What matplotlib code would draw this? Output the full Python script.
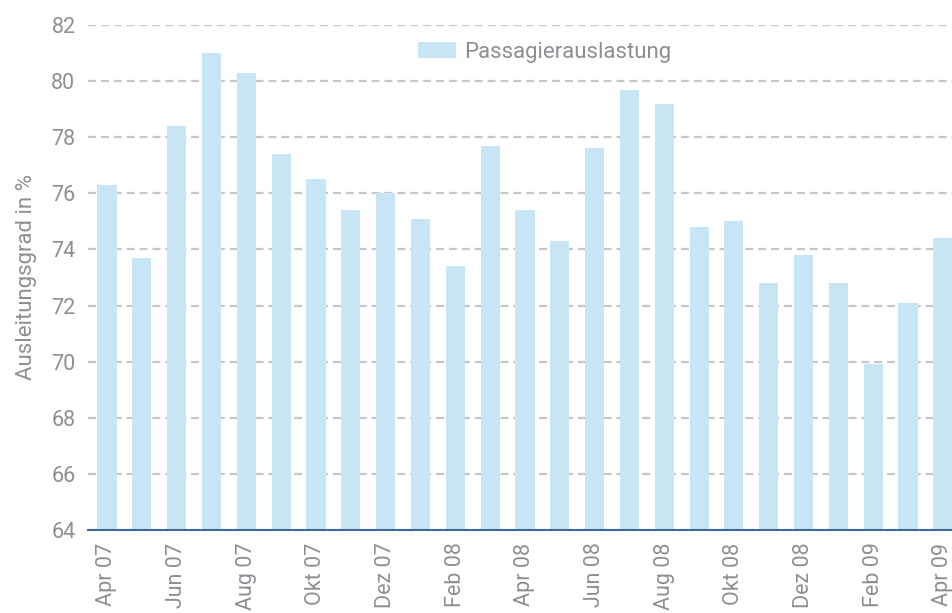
import numpy as np
import matplotlib.pyplot as plt

months = ['Apr 07', 'Mai 07', 'Jun 07', 'Jul 07', 'Aug 07', 'Sep 07', 'Okt 07', 'Nov 07',
          'Dez 07', 'Jan 08', 'Feb 08', 'Mär 08', 'Apr 08', 'Mai 08', 'Jun 08', 'Jul 08',
          'Aug 08', 'Sep 08', 'Okt 08', 'Nov 08', 'Dez 08', 'Jan 09', 'Feb 09', 'Mär 09',
          'Apr 09']
auslastung = [76.3, 73.7, 78.4, 81.0, 80.3, 77.4, 76.5, 75.4, 76.0, 75.1, 73.4, 77.7,
              75.4, 74.3, 77.6, 79.7, 79.2, 74.8, 75.0, 72.8, 73.8, 72.8, 69.9, 72.1,
              74.4]
yticks = [64, 66, 68, 70, 72, 74, 76, 78, 80, 82]

bar_color = '#c8e5f6'
text_color = '#8e8f94'
grid_color = '#c6c6c6'

plt.rcParams['font.family'] = ['Roboto', 'DejaVu Sans']

fig = plt.figure(figsize=(9.53, 6.13), dpi=100)
ax = fig.add_axes([88 / 953, 1 - 530 / 613, 1 - 88 / 953, (530 - 25) / 613])

x = np.arange(len(months))
ax.bar(x, np.array(auslastung) - 64, bottom=64, width=0.55, color=bar_color,
       label='Passagierauslastung', zorder=2)

ax.set_ylim(64, 82)
ax.set_xlim(-0.545, 24.29)
ax.set_yticks(yticks)
ax.set_xticks(x[::2])
ax.set_xticklabels(months[::2], rotation=90)

ax.yaxis.grid(True, linestyle=(0, (3.6, 2.2)), color=grid_color, linewidth=1.6, zorder=1)
ax.set_axisbelow(True)
for s in ['top', 'right', 'left']:
    ax.spines[s].set_visible(False)
ax.spines['bottom'].set_color('#3d6a9e')
ax.spines['bottom'].set_linewidth(1.5)
ax.spines['bottom'].set_zorder(3)

ax.tick_params(axis='both', length=0, labelsize=15.5, labelcolor=text_color)
ax.tick_params(axis='y', pad=9)
ax.tick_params(axis='x', pad=9)

ax.set_ylabel('Ausleitungsgrad in %', fontsize=16, color=text_color, labelpad=10)

leg = ax.legend(loc='center', bbox_to_anchor=(0.528, 0.946), frameon=False,
                fontsize=16, handlelength=1.7, handleheight=0.75, handletextpad=0.4)
for t in leg.get_texts():
    t.set_color(text_color)

fig.savefig('out.png', dpi=100)
